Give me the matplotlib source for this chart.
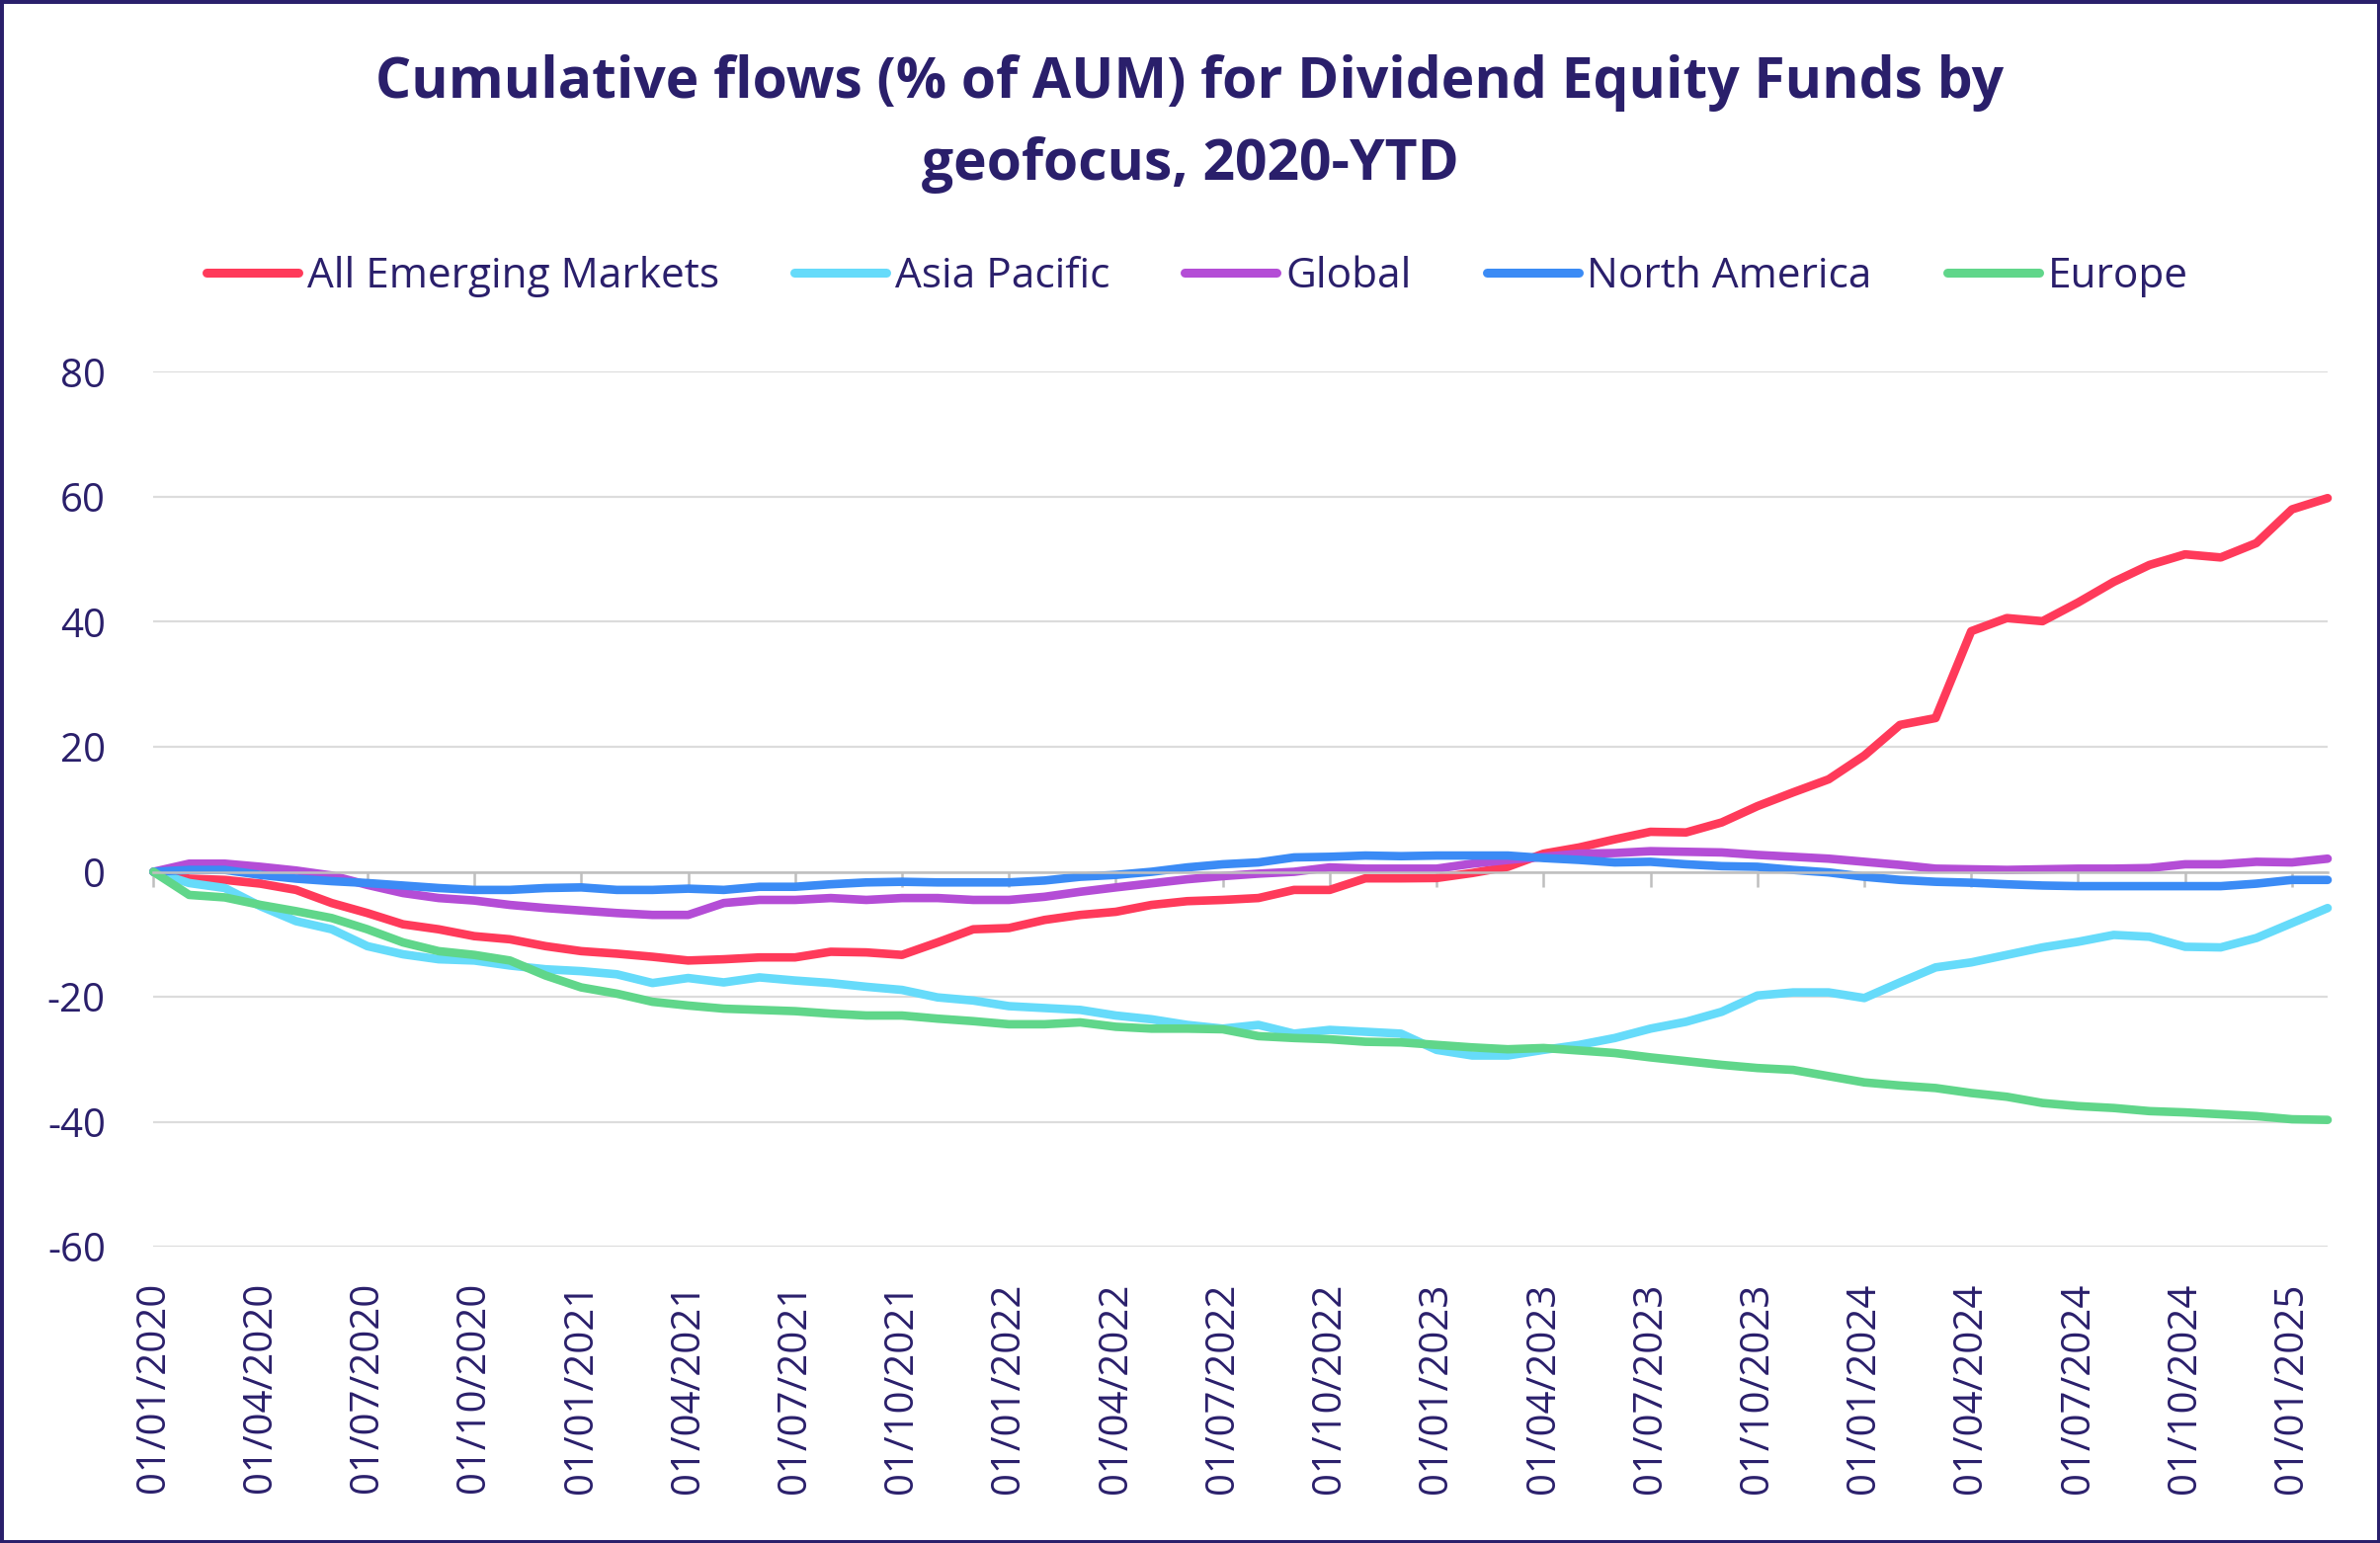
import matplotlib
matplotlib.use('Agg')
import matplotlib.pyplot as plt
import pandas as pd
from matplotlib.lines import Line2D
from matplotlib.patches import Rectangle

plt.rcParams['font.family'] = ['Open Sans', 'DejaVu Sans']
plt.rcParams['axes.unicode_minus'] = False

NAVY = '#2a1f6b'

# monthly observations, Jan 2020 - Feb 2025
dates = pd.date_range('2020-01-01', periods=62, freq='MS')

all_em = [0, -1.1, -1.3, -1.9, -2.9, -5.0, -6.6, -8.4, -9.2, -10.3,
          -10.8, -11.9, -12.7, -13.1, -13.6, -14.2, -14.0, -13.7, -13.7, -12.8,
          -12.9, -13.3, -11.3, -9.2, -9.0, -7.7, -6.9, -6.4, -5.3, -4.7,
          -4.5, -4.2, -2.9, -2.9, -1.05, -1.05, -1.0, -0.2, 0.8, 2.9,
          3.9, 5.2, 6.4, 6.3, 7.9, 10.5, 12.7, 14.8, 18.6, 23.5,
          24.6, 38.5, 40.6, 40.1, 43.1, 46.4, 49.1, 50.8, 50.3, 52.6,
          58.0, 59.8]
asia_pac = [0, -1.8, -2.6, -5.5, -7.9, -9.2, -11.9, -13.2, -14.0, -14.2,
            -15.0, -15.6, -15.9, -16.4, -17.8, -17.0, -17.7, -16.9, -17.4, -17.8,
            -18.4, -18.9, -20.1, -20.6, -21.5, -21.8, -22.1, -23.0, -23.6, -24.5,
            -25.1, -24.5, -25.9, -25.3, -25.6, -25.9, -28.5, -29.4, -29.4, -28.5,
            -27.7, -26.6, -25.1, -24.0, -22.4, -19.8, -19.3, -19.3, -20.2, -17.7,
            -15.3, -14.5, -13.3, -12.1, -11.2, -10.1, -10.4, -12.0, -12.1, -10.6,
            -8.2, -5.8]
global_ = [0, 1.3, 1.3, 0.8, 0.2, -0.6, -2.1, -3.4, -4.2, -4.6,
           -5.3, -5.8, -6.2, -6.6, -6.9, -6.9, -5.0, -4.5, -4.5, -4.2,
           -4.5, -4.2, -4.2, -4.5, -4.5, -4.0, -3.2, -2.5, -1.85, -1.2,
           -0.7, -0.3, 0.0, 0.7, 0.5, 0.5, 0.5, 1.3, 1.9, 2.4,
           2.9, 3.0, 3.3, 3.2, 3.1, 2.7, 2.4, 2.1, 1.6, 1.1,
           0.5, 0.4, 0.3, 0.4, 0.5, 0.5, 0.6, 1.2, 1.2, 1.6,
           1.5, 2.1]
north_am = [0, 0.3, 0.3, -0.5, -1.1, -1.5, -1.8, -2.2, -2.6, -2.9,
            -2.9, -2.6, -2.5, -2.9, -2.9, -2.7, -2.9, -2.4, -2.4, -2.0,
            -1.7, -1.6, -1.7, -1.7, -1.7, -1.4, -0.8, -0.5, 0.0, 0.7,
            1.2, 1.5, 2.3, 2.4, 2.6, 2.5, 2.6, 2.6, 2.6, 2.2,
            1.9, 1.5, 1.6, 1.2, 0.9, 0.8, 0.3, -0.1, -0.8, -1.3,
            -1.6, -1.75, -2.0, -2.2, -2.3, -2.3, -2.3, -2.3, -2.3, -1.9,
            -1.3, -1.3]
europe = [0, -3.7, -4.1, -5.3, -6.3, -7.4, -9.2, -11.3, -12.7, -13.3,
          -14.2, -16.6, -18.5, -19.5, -20.8, -21.4, -21.9, -22.1, -22.3, -22.7,
          -23.0, -23.0, -23.5, -23.9, -24.4, -24.4, -24.1, -24.8, -25.1, -25.1,
          -25.2, -26.3, -26.6, -26.8, -27.2, -27.3, -27.7, -28.1, -28.4, -28.2,
          -28.6, -29.0, -29.7, -30.3, -30.9, -31.4, -31.7, -32.7, -33.7, -34.2,
          -34.6, -35.4, -36.0, -37.0, -37.5, -37.8, -38.3, -38.5, -38.8, -39.1,
          -39.6, -39.7]

series_names = ['All Emerging Markets', 'Asia Pacific', 'Global', 'North America', 'Europe']
series_data = [all_em, asia_pac, global_, north_am, europe]
colors = ['#ff3a5a', '#66dbfa', '#b44dd6', '#3b8bf5', '#60d68a']

fig = plt.figure(figsize=(24.09, 15.62), dpi=100)
ax = fig.add_axes([0.0645, 0.192, 0.9135, 0.567])

x = list(range(len(dates)))
for name, vals, c in zip(series_names, series_data, colors):
    ax.plot(x, vals, color=c, lw=6.2, label=name, solid_joinstyle='round',
            solid_capstyle='round', clip_on=False)

ax.set_xlim(0, len(dates) - 1)
ax.set_ylim(-60, 80)
ax.set_yticks(range(-60, 81, 20))
ax.yaxis.grid(True, color='#dcdcdc', lw=1.6)
ax.set_axisbelow(True)

for s in ['top', 'right', 'left']:
    ax.spines[s].set_visible(False)
ax.spines['bottom'].set_position(('data', 0))
ax.spines['bottom'].set_color('#bfbfbf')
ax.spines['bottom'].set_linewidth(1.8)

tick_pos = x[::3]
ax.set_xticks(tick_pos)
ax.tick_params(axis='x', direction='out', length=11, width=1.8, color='#bfbfbf',
               labelbottom=False)
ax.tick_params(axis='y', length=0, pad=35, labelsize=29, labelcolor=NAVY)

# date labels along the bottom edge
sec = ax.secondary_xaxis('bottom')
sec.set_xticks(tick_pos, [d.strftime('%d/%m/%Y') for d in dates[::3]], rotation=90)
sec.tick_params(length=0, pad=26, labelsize=29, labelcolor=NAVY)
sec.spines['bottom'].set_visible(False)

# title
fig.text(0.5, 1 - 84 / 1562, 'Cumulative flows (% of AUM) for Dividend Equity Funds by',
         ha='center', va='center', fontsize=41, fontweight='bold', color=NAVY)
fig.text(0.5, 1 - 167 / 1562, 'geofocus, 2020-YTD',
         ha='center', va='center', fontsize=41, fontweight='bold', color=NAVY)

handles = [Line2D([0], [0], color=c, lw=6.5, solid_capstyle='round') for c in colors]
fig.legend(handles, series_names, loc='center', bbox_to_anchor=(0.503, 1 - 280 / 1562),
           ncol=5, frameon=False, fontsize=30.5, handlelength=2.2, handletextpad=0.2,
           columnspacing=1.8, labelcolor=NAVY)

fig.patches.append(Rectangle((0, 0), 1, 1, transform=fig.transFigure, fill=False,
                             edgecolor=NAVY, lw=5))

fig.savefig('out.png', dpi=100)
